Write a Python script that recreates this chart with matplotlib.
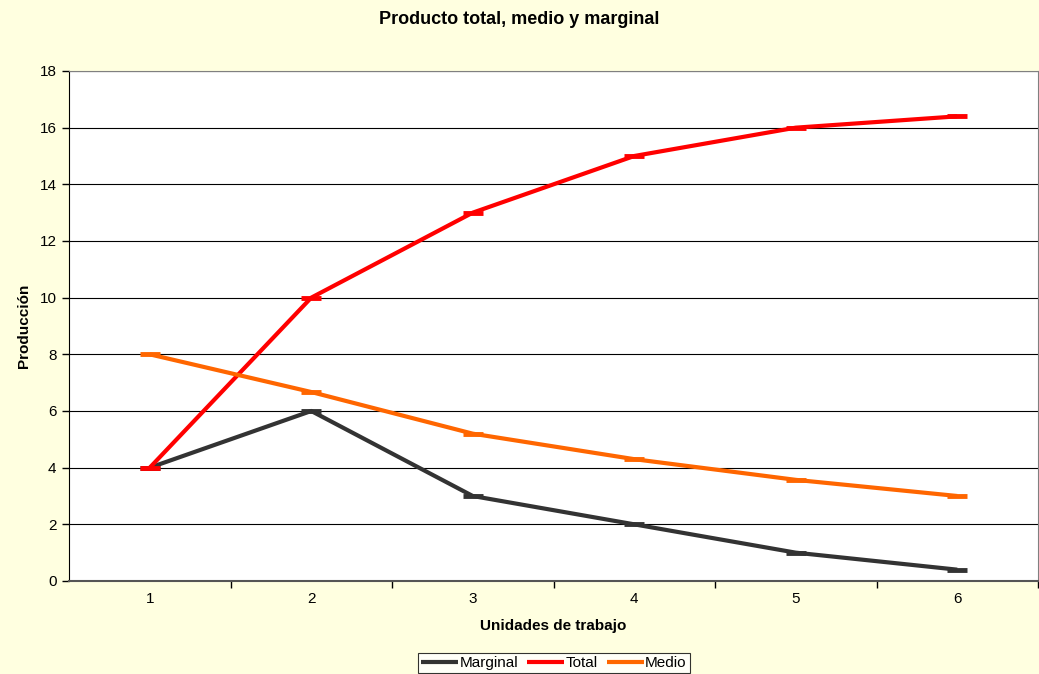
import matplotlib
matplotlib.use("Agg")
import matplotlib.pyplot as plt
from matplotlib.ticker import FixedLocator, NullFormatter

plt.rcParams['font.family'] = ['Liberation Sans', 'DejaVu Sans']

unidades = [1, 2, 3, 4, 5, 6]
marginal = [4, 6, 3, 2, 1, 0.4]
total = [4, 10, 13, 15, 16, 16.4]
medio = [8, 6.67, 5.2, 4.3, 3.57, 3.0]

bg = '#FFFFE0'
fig = plt.figure(figsize=(10.39, 6.74), dpi=100, facecolor=bg)
ax = fig.add_axes([69/1039, 1 - 581/674, (1038 - 69)/1039, (581 - 71)/674])
ax.set_facecolor('white')

series = [('Marginal', marginal, '#333333'),
          ('Total', total, '#FF0000'),
          ('Medio', medio, '#FF6600')]
for name, vals, col in series:
    ax.plot(unidades, vals, color=col, lw=3, marker='_', ms=15, mew=3.5,
            label=name, solid_capstyle='butt', zorder=3)

ax.set_xlim(0.5, 6.5)
ax.set_ylim(0, 18)
ax.set_yticks(range(0, 19, 2))
ax.yaxis.grid(True, color='black', lw=0.8)
ax.set_axisbelow(True)

ax.set_xticks(unidades)
ax.tick_params(axis='x', which='major', length=0, labelsize=11, pad=8)
ax.xaxis.set_minor_locator(FixedLocator([1.5, 2.5, 3.5, 4.5, 5.5, 6.5]))
ax.xaxis.set_minor_formatter(NullFormatter())
ax.tick_params(axis='x', which='minor', length=5, width=1, direction='out')
ax.tick_params(axis='y', length=5, width=1, direction='out', labelsize=11, pad=4)

for side in ['top', 'right']:
    ax.spines[side].set_color('#808080')
ax.spines['left'].set_color('black')
ax.spines['bottom'].set_color('#555555')
ax.spines['bottom'].set_linewidth(1.5)

ax.set_xlabel('Unidades de trabajo', fontsize=11, fontweight='bold', labelpad=9)
ax.set_ylabel('Producción', fontsize=11, fontweight='bold', labelpad=6)
fig.suptitle('Producto total, medio y marginal', fontsize=13, fontweight='bold',
             y=1 - 19/674, va='center')

leg = fig.legend(loc='center', bbox_to_anchor=(554/1039, 1 - 663/674), ncol=3,
                 fontsize=11, frameon=True, fancybox=False, edgecolor='black',
                 handlelength=2.4, handletextpad=0.1, columnspacing=0.6,
                 borderpad=0.2, borderaxespad=0)
for h in leg.legend_handles:
    h.set_marker('')
leg.get_frame().set_linewidth(0.8)
leg.get_frame().set_facecolor('white')

fig.savefig('out.png', dpi=100, facecolor=bg)
